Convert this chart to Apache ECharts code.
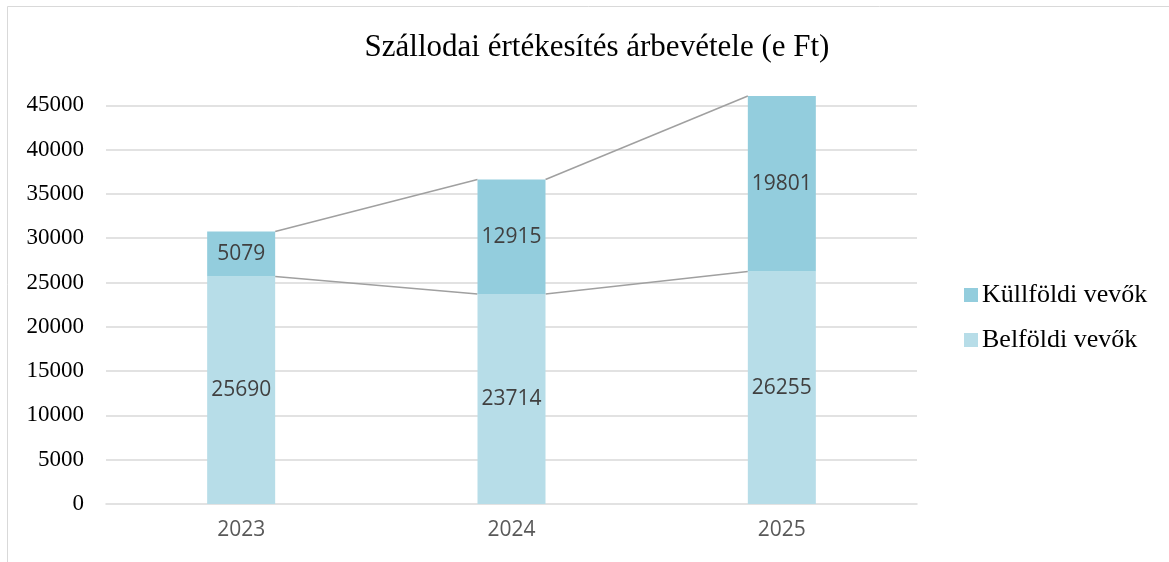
<!DOCTYPE html>
<html>
<head>
<meta charset="utf-8">
<script src="https://cdn.jsdelivr.net/npm/echarts@6/dist/echarts.min.js"></script>
<style>
  html, body { margin: 0; padding: 0; background: #fff; }
  #chart { width: 1169px; height: 562px; }
</style>
</head>
<body>
<div id="chart"></div>
<script>
const years = ['2023', '2024', '2025']
const belfoldi = [25690, 23714, 26255]
const kulfoldi = [5079, 12915, 19801]

const totals = years.map((_, i) => belfoldi[i] + kulfoldi[i])
const serif = '"Liberation Serif", "Times New Roman", serif'
const sans = '"Open Sans", "Noto Sans", sans-serif'
const barW = 68

// Excel-style series lines between neighbouring bars
const lineData = []
for (let i = 0; i < years.length - 1; i++) {
  lineData.push([i, belfoldi[i], belfoldi[i + 1], totals[i], totals[i + 1]])
}

const chart = echarts.init(document.getElementById('chart'))

chart.setOption({
  animation: false,
  backgroundColor: '#fff',
  graphic: [{
    type: 'rect',
    shape: { x: 7.5, y: 6.5, width: 1200, height: 600 },
    style: { fill: 'none', stroke: '#d9d9d9', lineWidth: 1 },
    silent: true,
  }],
  title: {
    text: 'Szállodai értékesítés árbevétele (e Ft)',
    left: 592,
    top: 27,
    textAlign: 'center',
    textStyle: { fontFamily: serif, fontSize: 31, fontWeight: 'normal', color: '#000' },
  },
  legend: {
    orient: 'vertical',
    left: 959,
    top: 276,
    itemWidth: 14,
    itemHeight: 14,
    itemGap: 17,
    icon: 'rect',
    data: ['Küllföldi vevők', 'Belföldi vevők'],
    textStyle: { fontFamily: serif, fontSize: 26, lineHeight: 28, color: '#000', padding: [0, 0, 0, -1] },
  },
  grid: { left: 106, right: 252, top: 96, bottom: 58 },
  xAxis: {
    type: 'category',
    data: years,
    axisTick: { show: false },
    axisLine: { lineStyle: { color: '#d9d9d9', width: 1.5 } },
    axisLabel: { fontFamily: sans, fontSize: 21, color: '#595959', margin: 16 },
  },
  yAxis: {
    type: 'value',
    min: 0,
    max: Math.max(...totals),
    interval: 5000,
    axisLine: { show: false },
    axisTick: { show: false },
    axisLabel: { fontFamily: serif, fontSize: 23, color: '#000', margin: 22, showMaxLabel: false, formatter: (v) => String(v) },
    splitLine: { showMinLine: false, showMaxLine: false, lineStyle: { color: '#d9d9d9', width: 1.5 } },
  },
  series: [
    {
      name: 'Belföldi vevők',
      type: 'bar',
      stack: 'total',
      barWidth: barW,
      data: belfoldi,
      itemStyle: { color: '#b7dde8' },
      label: { show: true, position: 'inside', fontFamily: sans, fontSize: 21, color: '#404040' },
      z: 3,
    },
    {
      name: 'Küllföldi vevők',
      type: 'bar',
      stack: 'total',
      barWidth: barW,
      data: kulfoldi,
      itemStyle: { color: '#93cddd' },
      label: { show: true, position: 'inside', fontFamily: sans, fontSize: 21, color: '#404040' },
      z: 3,
    },
    {
      type: 'custom',
      silent: true,
      z: 2,
      data: lineData,
      encode: { x: 0, y: [1, 2, 3, 4] },
      renderItem(params, api) {
        const i = api.value(0)
        const half = barW / 2
        const seg = (a, b) => {
          const p1 = api.coord([i, a])
          const p2 = api.coord([i + 1, b])
          return {
            type: 'line',
            shape: { x1: p1[0] + half, y1: p1[1], x2: p2[0] - half, y2: p2[1] },
            style: { stroke: '#a0a0a0', lineWidth: 1.5 },
          }
        }
        return {
          type: 'group',
          children: [seg(api.value(1), api.value(2)), seg(api.value(3), api.value(4))],
        }
      },
    },
  ],
})
</script>
</body>
</html>
